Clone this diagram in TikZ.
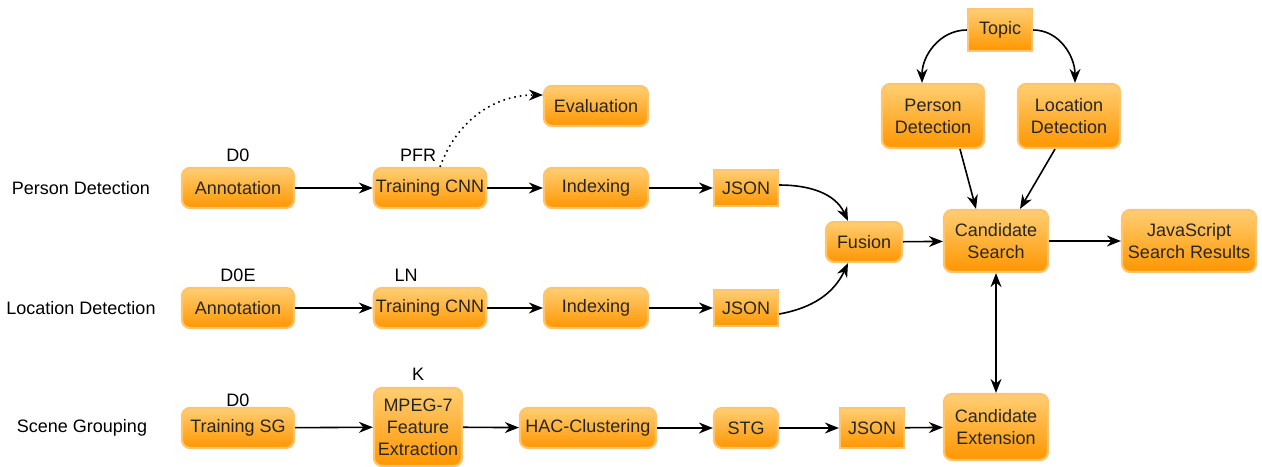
\documentclass[tikz,border=0pt]{standalone}
\usepackage{fontspec}
\setmainfont{Liberation Sans}
\usetikzlibrary{arrows.meta,positioning}
\definecolor{boxtop}{RGB}{255,206,115}
\definecolor{boxbot}{RGB}{255,150,0}
\definecolor{boxline}{RGB}{255,196,110}

\begin{document}
\begin{tikzpicture}[
  x=0.5pt, y=-0.5pt,
  font=\fontsize{9}{11}\selectfont,
  box/.style={rectangle, draw=boxline, line width=1.1pt, top color=boxtop,
              bottom color=boxbot, rounded corners=4pt, align=center,
              inner sep=1pt, minimum width=56pt, minimum height=20pt,
              text=black!85},
  sqbox/.style={box, sharp corners, minimum width=32pt, minimum height=18pt},
  lbl/.style={inner sep=0pt},
  arr/.style={-{Stealth[length=7pt,width=5.5pt]}, line width=0.8pt},
  dblarr/.style={{Stealth[length=7pt,width=5.5pt]}-{Stealth[length=7pt,width=5.5pt]}, line width=0.8pt}
]
  \useasboundingbox (0,0) rectangle (1262,466);

  % row titles
  \node[lbl] (rowpd) at (81,188) {Person Detection};
  \node[lbl] (rowld) at (81,308) {Location Detection};
  \node[lbl] (rowsg) at (82,428) {Scene Grouping};

  % person detection row
  \node[box] (ann1) at (238,188) {Annotation};
  \node[lbl] (d0a)  at (238,155) {D0};
  \node[box] (tcnn1) at (430,188) {Training CNN};
  \node[lbl] (pfr)  at (418,155) {PFR};
  \node[box, minimum width=52pt] (idx1) at (596,188) {Indexing};
  \node[sqbox] (json1) at (746,188) {JSON};
  \node[box, minimum width=52pt] (eval) at (596,106) {Evaluation};

  % location detection row
  \node[box] (ann2) at (238,308) {Annotation};
  \node[lbl] (d0e)  at (238,275) {D0E};
  \node[box] (tcnn2) at (430,308) {Training CNN};
  \node[lbl] (ln)   at (406,275) {LN};
  \node[box, minimum width=52pt] (idx2) at (596,308) {Indexing};
  \node[sqbox] (json2) at (746,308) {JSON};

  % scene grouping row
  \node[box] (tsg) at (238,428) {Training SG};
  \node[lbl] (d0b) at (238,400) {D0};
  \node[box, minimum width=44pt, minimum height=39pt] (mpeg) at (418,427) {MPEG-7\\Feature\\Extraction};
  \node[lbl] (kk)  at (418,374) {K};
  \node[box, minimum width=68pt] (hac) at (588,428) {HAC-Clustering};
  \node[box, minimum width=32pt] (stg) at (746,428) {STG};
  \node[sqbox, minimum height=20pt] (json3) at (872,428) {JSON};

  % search
  \node[box, minimum width=38pt] (fus) at (864,242) {Fusion};
  \node[box, minimum width=52pt, minimum height=31pt] (cs) at (996,241) {Candidate\\Search};
  \node[box, minimum width=67pt, minimum height=31pt] (jsr) at (1189,241) {JavaScript\\Search Results};
  \node[box, minimum width=52pt, minimum height=33pt] (ce) at (996,427) {Candidate\\Extension};
  \node[sqbox, minimum height=21pt] (topic) at (1000,30) {Topic};
  \node[box, minimum width=51pt, minimum height=32pt] (pdt) at (933,116) {Person\\Detection};
  \node[box, minimum width=51pt, minimum height=32pt] (ldt) at (1069,116) {Location\\Detection};

  \draw[arr] (ann1) -- (tcnn1);
  \draw[arr] (tcnn1) -- (idx1);
  \draw[arr] (idx1) -- (json1);
  \draw[arr, dotted] ([xshift=5pt]tcnn1.north) to[out=70,in=180] ([yshift=5.5pt]eval.west);

  \draw[arr] (ann2) -- (tcnn2);
  \draw[arr] (tcnn2) -- (idx2);
  \draw[arr] (idx2) -- (json2);

  \draw[arr] (tsg) -- (mpeg);
  \draw[arr] (mpeg) -- (hac);
  \draw[arr] (hac) -- (stg);
  \draw[arr] (stg) -- (json3);
  \draw[arr] (json3) -- (ce);

  \draw[arr] ([yshift=1.5pt]json1.east) to[out=0,in=115] ([xshift=-8pt]fus.north);
  \draw[arr] ([yshift=-3pt]json2.east) to[out=10,in=-115] ([xshift=-8pt]fus.south);
  \draw[arr] (fus) -- (cs);
  \draw[arr] (cs) -- (jsr);
  \draw[dblarr] (cs) -- (ce);

  \draw[arr] (topic.west) to[out=180,in=90] ([xshift=-5.5pt]pdt.north);
  \draw[arr] (topic.east) to[out=0,in=90] ([xshift=3pt]ldt.north);
  \draw[arr] ([xshift=13.5pt]pdt.south) -- ([xshift=-10pt]cs.north);
  \draw[arr] ([xshift=-7pt]ldt.south) -- ([xshift=12pt]cs.north);
\end{tikzpicture}
\end{document}
